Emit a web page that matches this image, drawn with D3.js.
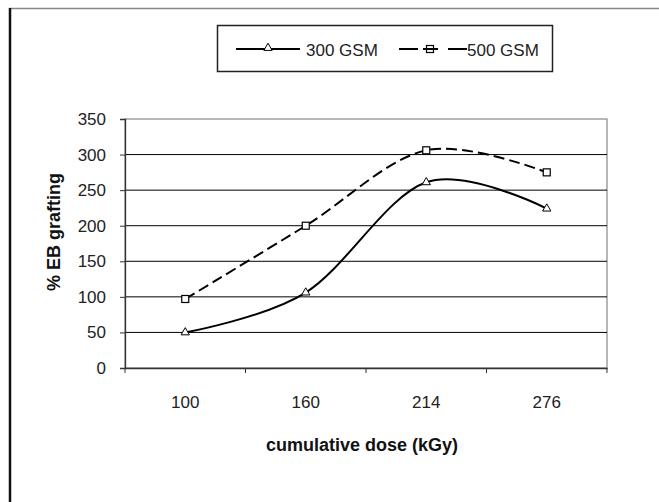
<!DOCTYPE html>
<html><head><meta charset="utf-8">
<script src="https://cdn.jsdelivr.net/npm/d3@7"></script>
<style>body{margin:0;background:#fff}svg{display:block}text{font-family:"Liberation Sans",Arial,sans-serif}</style>
</head><body><svg id="c" width="659" height="502"></svg>
<script>
const categories = ["100","160","214","276"];
const gsm300 = [50, 106, 261, 224];
const gsm500 = [97, 200, 306, 275];
const yTicks = [0,50,100,150,200,250,300,350];
const seriesNames = ["300 GSM","500 GSM"];

const svg = d3.select("#c");
const L=125,R=607,T=119,B=368;
const x = d3.scaleBand().domain(categories).range([L,R]).padding(0);
const y = d3.scaleLinear().domain([0,350]).range([B,T]);

// outer frame
svg.append("line").attr("x1",9).attr("x2",659).attr("y1",8.5).attr("y2",8.5).attr("stroke","#888").attr("stroke-width",1.5);
svg.append("line").attr("x1",10).attr("x2",10).attr("y1",8).attr("y2",502).attr("stroke","#111").attr("stroke-width",2.5);

// plot border (top/right gray)
svg.append("rect").attr("x",L).attr("y",T).attr("width",R-L).attr("height",B-T).attr("fill","none").attr("stroke","#888").attr("stroke-width",1.2);

// gridlines
svg.append("g").selectAll("line").data(yTicks.filter(d=>d>0&&d<350)).join("line")
  .attr("x1",L).attr("x2",R).attr("y1",d=>y(d)).attr("y2",d=>y(d)).attr("stroke","#000").attr("stroke-width",1);

// y axis
const ya = svg.append("g").attr("transform",`translate(${L},0)`).call(d3.axisLeft(y).tickValues(yTicks).tickSize(5).tickPadding(14));
ya.select(".domain").attr("stroke","#333").attr("stroke-width",1.3);
ya.selectAll(".tick line").attr("stroke","#333");
ya.selectAll("text").attr("font-size",17).attr("fill","#222").attr("font-family","Liberation Sans, Arial, sans-serif");

// x axis
const xa = svg.append("g").attr("transform",`translate(0,${B})`).call(d3.axisBottom(x).tickSize(0).tickPadding(28));
xa.select(".domain").attr("stroke","#333").attr("stroke-width",1.3);
xa.selectAll("text").attr("font-size",17).attr("fill","#222").attr("font-family","Liberation Sans, Arial, sans-serif");
const bounds = categories.map(c=>x(c)).concat([R]);
svg.append("g").selectAll("line").data(bounds).join("line")
  .attr("x1",d=>d).attr("x2",d=>d).attr("y1",B).attr("y2",B+5).attr("stroke","#333");

// titles
svg.append("text").attr("x",362).attr("y",451).attr("text-anchor","middle").attr("font-size",18).attr("font-weight","bold").attr("fill","#111").text("cumulative dose (kGy)");
svg.append("text").attr("transform",`translate(60,232) rotate(-90)`).attr("text-anchor","middle").attr("font-size",18).attr("font-weight","bold").attr("fill","#111").text("% EB grafting");

const cx = c=>x(c)+x.bandwidth()/2;
const line = d3.line().x((d,i)=>cx(categories[i])).y(d=>y(d)).curve(d3.curveCardinal.tension(0));

svg.append("path").attr("d",line(gsm500)).attr("fill","none").attr("stroke","#000").attr("stroke-width",2).attr("stroke-dasharray","11,5");
svg.append("path").attr("d",line(gsm300)).attr("fill","none").attr("stroke","#000").attr("stroke-width",2);

const tri = d3.symbol().type(d3.symbolTriangle).size(30);
svg.append("g").selectAll("path").data(gsm300).join("path")
  .attr("d",tri).attr("transform",(d,i)=>`translate(${cx(categories[i])},${y(d)})`).attr("fill","#fff").attr("stroke","#000").attr("stroke-width",1);
svg.append("g").selectAll("rect").data(gsm500).join("rect")
  .attr("x",(d,i)=>cx(categories[i])-3.5).attr("y",d=>y(d)-3.5).attr("width",7).attr("height",7).attr("fill","#fff").attr("stroke","#000").attr("stroke-width",1.2);

// legend
svg.append("rect").attr("x",217.5).attr("y",25.5).attr("width",335).attr("height",46).attr("fill","#fff").attr("stroke","#222").attr("stroke-width",1.5);
const ly=49;
svg.append("line").attr("x1",236).attr("x2",300).attr("y1",ly).attr("y2",ly).attr("stroke","#000").attr("stroke-width",2);
svg.append("path").attr("d",tri).attr("transform",`translate(268,${ly-1})`).attr("fill","#fff").attr("stroke","#000");
svg.append("text").attr("x",306).attr("y",ly+6.5).attr("font-size",17).attr("fill","#222").text(seriesNames[0]);
svg.append("rect").attr("x",426.5).attr("y",ly-3.5).attr("width",7).attr("height",7).attr("fill","#fff").attr("stroke","#000").attr("stroke-width",1.2);
svg.append("line").attr("x1",399).attr("x2",467).attr("y1",ly).attr("y2",ly).attr("stroke","#000").attr("stroke-width",2).attr("stroke-dasharray","19,5,15,10,19");
svg.append("text").attr("x",467).attr("y",ly+6.5).attr("font-size",17).attr("fill","#222").text(seriesNames[1]);
</script></body></html>
